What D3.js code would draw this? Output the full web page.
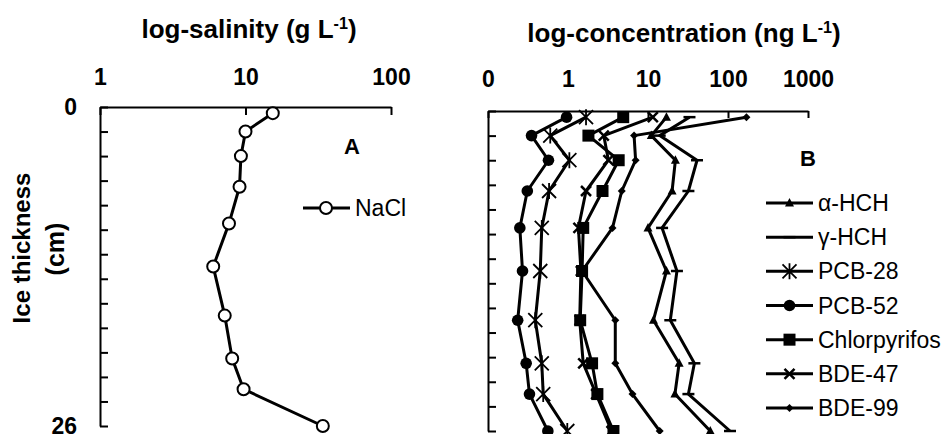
<!DOCTYPE html>
<html>
<head>
<meta charset="utf-8">
<script src="https://cdn.jsdelivr.net/npm/d3@7"></script>
<style>
  body { margin: 0; background: #fff; }
  svg { font-family: "Liberation Sans", Arial, sans-serif; }
</style>
</head>
<body>
<svg id="chart" width="946" height="434"></svg>
<script>
// profondeurs (cm) des échantillons
const depths = [0.5, 2, 4, 6.5, 9.5, 13, 17, 20.5, 23, 26];

// panneau A : salinité (g/L)
const nacl = [15.4, 10, 9.3, 9.1, 7.7, 6.0, 7.2, 8.1, 9.7, 34];

// panneau B : concentrations (ng/L)
const alphaHCH     = [17, 11, 22, 20, 10, 17, 11.7, 24.5, 21.7, 60];
const gammaHCH     = [33, 14, 41, 32, 15, 23, 19, 38, 32, 106];
const pcb28        = [1.68, 0.6, 1.04, 0.58, 0.47, 0.45, 0.39, 0.47, 0.49, 0.98];
const pcb52        = [0.96, 0.35, 0.57, 0.31, 0.25, 0.27, 0.235, 0.3, 0.33, 0.56];
const chlorpyrifos = [4.9, 1.8, 4.3, 2.7, 1.55, 1.5, 1.42, 2.0, 2.33, 3.7];
const bde47        = [11.5, 2.8, 3.2, 1.68, 1.35, 1.45, 1.4, 1.55, 2.25, 3.5];
const bde99        = [170, 6.7, 7.0, 4.7, 3.6, 1.5, 3.9, 3.9, 6.4, 14];

const seriesNames = ["α-HCH", "γ-HCH", "PCB-28", "PCB-52", "Chlorpyrifos", "BDE-47", "BDE-99"];
const seriesMarkers = ["triangle", "dash", "asterisk", "circle", "square", "x", "diamond"];
const seriesValues = [alphaHCH, gammaHCH, pcb28, pcb52, chlorpyrifos, bde47, bde99];

const ticksA = [1, 10, 100];
const ticksB = [0.1, 1, 10, 100, 1000];
const depthTicks = [0, 2, 4, 6, 8, 10, 12, 14, 16, 18, 20, 22, 24, 26];

const svg = d3.select("#chart");

// échelles
const xA = d3.scaleLog().domain([1, 100]).range([100, 391]);
const yA = d3.scaleLinear().domain([0, 26]).range([107, 426]);
const xB = d3.scaleLog().domain([0.1, 1000]).range([488, 808]);
const yB = d3.scaleLinear().domain([0, 26]).range([111, 431]);

function styleAxis(g) {
  g.select(".domain").attr("stroke", "#000").attr("stroke-width", 2);
  g.selectAll(".tick line").attr("stroke", "#000").attr("stroke-width", 2);
  g.selectAll(".tick text")
    .attr("fill", "#000")
    .attr("font-size", 23)
    .attr("font-weight", "bold")
    .attr("font-family", "Liberation Sans, Arial, sans-serif");
}

// axes panneau A
svg.append("g")
  .attr("transform", `translate(0,${yA(0)})`)
  .call(d3.axisTop(xA).tickValues(ticksA).tickFormat(d => d).tickSizeInner(-8).tickSizeOuter(0).tickPadding(22))
  .call(styleAxis);

svg.append("g")
  .attr("transform", `translate(${xA(1)},0)`)
  .call(d3.axisLeft(yA).tickValues(depthTicks).tickFormat(d => (d === 0 || d === 26) ? d : "")
    .tickSizeInner(-8).tickSizeOuter(0).tickPadding(23))
  .call(styleAxis);

// axes panneau B
svg.append("g")
  .attr("transform", `translate(0,${yB(0)})`)
  .call(d3.axisTop(xB).tickValues(ticksB).tickFormat(d => d < 1 ? "0" : d).tickSizeInner(-7).tickSizeOuter(0).tickPadding(24))
  .call(styleAxis);

svg.append("g")
  .attr("transform", `translate(${xB(0.1)},0)`)
  .call(d3.axisLeft(yB).tickValues(depthTicks).tickFormat("").tickSizeInner(-8).tickSizeOuter(0))
  .call(styleAxis);

// titres
function titre(x, y, main, size) {
  const t = svg.append("text")
    .attr("x", x).attr("y", y)
    .attr("text-anchor", "middle")
    .attr("font-size", size)
    .attr("font-weight", "bold")
    .text(main);
  t.append("tspan").attr("font-size", size * 0.62).attr("dy", -9).text("-1");
  t.append("tspan").attr("dy", 9).text(")");
}
titre(249, 38, "log-salinity (g L", 26);
titre(684, 42, "log-concentration (ng L", 26);

svg.append("text")
  .attr("transform", "translate(30,248) rotate(-90)")
  .attr("text-anchor", "middle")
  .attr("font-size", 24).attr("font-weight", "bold")
  .text("Ice thickness");
svg.append("text")
  .attr("transform", "translate(64,249) rotate(-90)")
  .attr("text-anchor", "middle")
  .attr("font-size", 25).attr("font-weight", "bold")
  .text("(cm)");

svg.append("text").attr("x", 352).attr("y", 154).attr("text-anchor", "middle")
  .attr("font-size", 22).attr("font-weight", "bold").text("A");
svg.append("text").attr("x", 808).attr("y", 166).attr("text-anchor", "middle")
  .attr("font-size", 22).attr("font-weight", "bold").text("B");

// panneau A : courbe NaCl
const lineA = d3.line().x(d => xA(d[1])).y(d => yA(d[0]));
const ptsA = depths.map((d, i) => [d, nacl[i]]);
svg.append("path").attr("d", lineA(ptsA))
  .attr("fill", "none").attr("stroke", "#000").attr("stroke-width", 3);
svg.selectAll(".nacl").data(ptsA).enter().append("circle")
  .attr("class", "nacl")
  .attr("cx", d => xA(d[1])).attr("cy", d => yA(d[0]))
  .attr("r", 6).attr("fill", "#fff").attr("stroke", "#000").attr("stroke-width", 2);

// légende A
svg.append("line").attr("x1", 303).attr("x2", 350).attr("y1", 208).attr("y2", 208)
  .attr("stroke", "#000").attr("stroke-width", 3);
svg.append("circle").attr("cx", 326).attr("cy", 208).attr("r", 6)
  .attr("fill", "#fff").attr("stroke", "#000").attr("stroke-width", 2);
svg.append("text").attr("x", 355).attr("y", 216).attr("font-size", 23).text("NaCl");

// marqueurs
function marker(g, type) {
  if (type === "triangle") {
    g.append("path").attr("d", "M0,-5L4.5,3.5L-4.5,3.5Z").attr("fill", "#000");
  } else if (type === "dash") {
    g.append("path").attr("d", "M-6,0H6").attr("stroke", "#000").attr("stroke-width", 2.5);
  } else if (type === "asterisk") {
    g.append("path").attr("d", "M-7,-7L7,7M-7,7L7,-7M0,-8V8").attr("stroke", "#000").attr("stroke-width", 1.8);
  } else if (type === "circle") {
    g.append("circle").attr("r", 5.8).attr("fill", "#000");
  } else if (type === "square") {
    g.append("rect").attr("x", -6).attr("y", -6).attr("width", 12).attr("height", 12).attr("fill", "#000");
  } else if (type === "x") {
    g.append("path").attr("d", "M-5,-5L5,5M-5,5L5,-5").attr("stroke", "#000").attr("stroke-width", 2.5);
  } else if (type === "diamond") {
    g.append("path").attr("d", "M0,-4L4,0L0,4L-4,0Z").attr("fill", "#000");
  }
}

// panneau B : courbes
const lineB = d3.line().x(d => xB(d[1])).y(d => yB(d[0]));
seriesValues.forEach((vals, s) => {
  const pts = depths.map((d, i) => [d, vals[i]]);
  const g = svg.append("g");
  g.append("path").attr("d", lineB(pts))
    .attr("fill", "none").attr("stroke", "#000").attr("stroke-width", 3)
    .attr("stroke-linejoin", "round");
  pts.forEach(p => {
    marker(g.append("g").attr("transform", `translate(${xB(p[1])},${yB(p[0])})`), seriesMarkers[s]);
  });
});

// légende B
const legendY = d3.scalePoint().domain(seriesNames).range([203, 408]);
seriesNames.forEach((name, s) => {
  const y = legendY(name);
  svg.append("line").attr("x1", 766).attr("x2", 813).attr("y1", y).attr("y2", y)
    .attr("stroke", "#000").attr("stroke-width", 3);
  marker(svg.append("g").attr("transform", `translate(789.5,${y})`), seriesMarkers[s]);
  svg.append("text").attr("x", 818).attr("y", y + 8).attr("font-size", 23).text(name);
});
</script>
</body>
</html>
